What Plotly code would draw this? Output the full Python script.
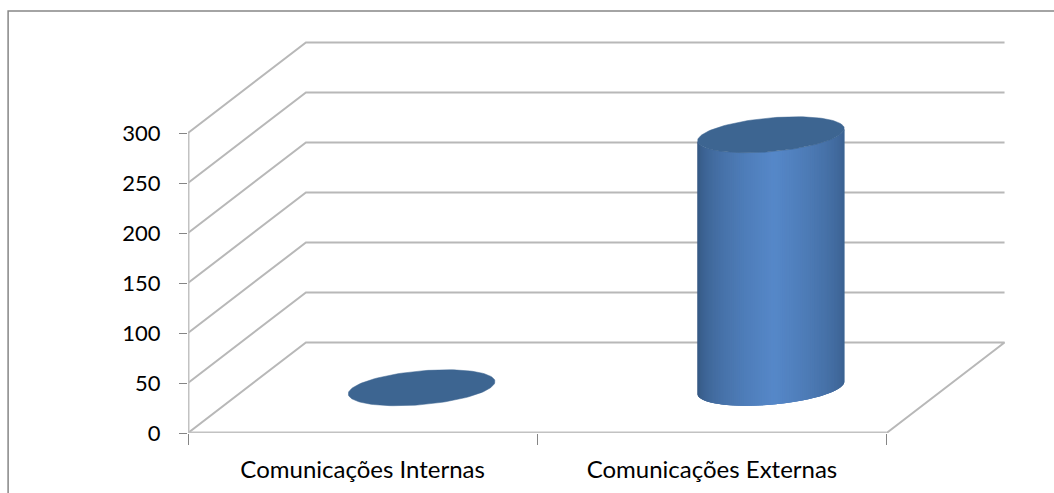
import numpy as np
import plotly.graph_objects as go

categories = ["Comunicações Internas", "Comunicações Externas"]
values = [0, 253]
y_ticks = [0, 50, 100, 150, 200, 250, 300]

# geometry of the fake 3-D box, in pixels (1 value unit = 1 px)
CAT_W = 349.5
DEPTH_X = 118 / CAT_W
DEPTH_Y = 90.5
RX_A = 69 / CAT_W
RX_B = 25 / CAT_W
RY = 18
GRID = "#b8b8b8"
AXIS = "#c2c2c2"
TICK = "#858585"
CAP = "#3d6591"
DARK = np.array([0x33, 0x55, 0x7e])
LIGHT = np.array([0x56, 0x88, 0xc9])

fig = go.Figure()
n = len(categories)


def line(xs, ys, color, width):
    fig.add_trace(go.Scatter(x=xs, y=ys, mode="lines", hoverinfo="skip", showlegend=False,
                             cliponaxis=False,
                             line=dict(color=color, width=width, simplify=False)))


# wall gridlines
for v in y_ticks[1:]:
    line([0, DEPTH_X, n + DEPTH_X], [v, v + DEPTH_Y, v + DEPTH_Y], GRID, 2)
# floor
line([0, DEPTH_X, n + DEPTH_X, n], [0, DEPTH_Y, DEPTH_Y, 0], GRID, 2)
# front axes
line([0, 0], [0, y_ticks[-1]], AXIS, 3)
line([0, n], [0, 0], AXIS, 3)


def ellipse(t, cx, cy):
    return cx + RX_A * np.cos(t) + RX_B * np.sin(t), cy + RY * np.sin(t)


for i, v in enumerate(values):
    cx = i + 0.5 + DEPTH_X / 2
    cy = DEPTH_Y / 2
    t0 = np.arctan2(RX_B, RX_A)
    if v > 0:
        ts = np.linspace(t0 + np.pi, t0 + 2 * np.pi, 101)
        xb, yb = ellipse(ts, cx, cy)
        xmin, xmax = xb.min(), xb.max()
        last = len(ts) - 1
        for j in range(last):
            e = min(j + 3, last)  # overlap the next slices so no seams show
            f = ((xb[j] + xb[j + 1]) / 2 - xmin) / (xmax - xmin)
            k = np.clip(1 - abs(f - 0.52) / 0.52, 0, 1) ** 0.5
            c = DARK + (LIGHT - DARK) * k
            col = "rgb(%d,%d,%d)" % tuple(c)
            xs = list(xb[j:e + 1]) + [xb[e], xb[j], xb[j]]
            ys = list(yb[j:e + 1]) + [yb[e] + v, yb[j] + v, yb[j]]
            fig.add_trace(go.Scatter(
                x=xs, y=ys, mode="lines", fill="toself", fillcolor=col, hoverinfo="skip",
                showlegend=False, line=dict(color=col, width=0)))
    tt = np.linspace(0, 2 * np.pi, 121)
    xc, yc = ellipse(tt, cx, cy + v)
    fig.add_trace(go.Scatter(x=xc, y=yc, mode="lines", fill="toself", fillcolor=CAP,
                             line=dict(color=CAP, width=0.5), showlegend=False,
                             name=categories[i], hovertemplate="%{fullData.name}<extra></extra>"))

xfont = dict(family="Lato, Carlito, sans-serif", size=24, color="#000000")
yfont = dict(family="Lato, Carlito, sans-serif", size=22, color="#000000")
fig.update_layout(
    width=1054, height=493, autosize=False,
    margin=dict(l=187.5, r=0, t=0, b=60, pad=0),
    paper_bgcolor="white", plot_bgcolor="white",
    showlegend=False,
    xaxis=dict(range=[0, 866.5 / CAT_W], showgrid=False, zeroline=False, showline=False,
               tickmode="array", tickvals=[i + 0.5 for i in range(n)], ticktext=categories,
               ticks="", tickfont=xfont, ticklabelstandoff=20,
               minor=dict(tickmode="array", tickvals=list(range(n + 1)), ticks="outside",
                          ticklen=11, tickcolor=TICK, tickwidth=1, showgrid=False)),
    yaxis=dict(range=[0, 433], showgrid=False, zeroline=False, showline=False,
               tickmode="array", tickvals=y_ticks, ticks="outside", ticklen=8,
               tickcolor=TICK, tickwidth=1, tickfont=yfont, ticklabelstandoff=14),
    shapes=[dict(type="rect", xref="paper", yref="paper", layer="below",
                 x0=-180 / 866.5, x1=1.02, y0=-0.2, y1=(433 - 11) / 433,
                 line=dict(color="#868686", width=1.5), fillcolor="rgba(0,0,0,0)")],
)
fig.write_html("out.html", config=dict(displayModeBar=False),
               post_script="document.body.style.margin='0';")
